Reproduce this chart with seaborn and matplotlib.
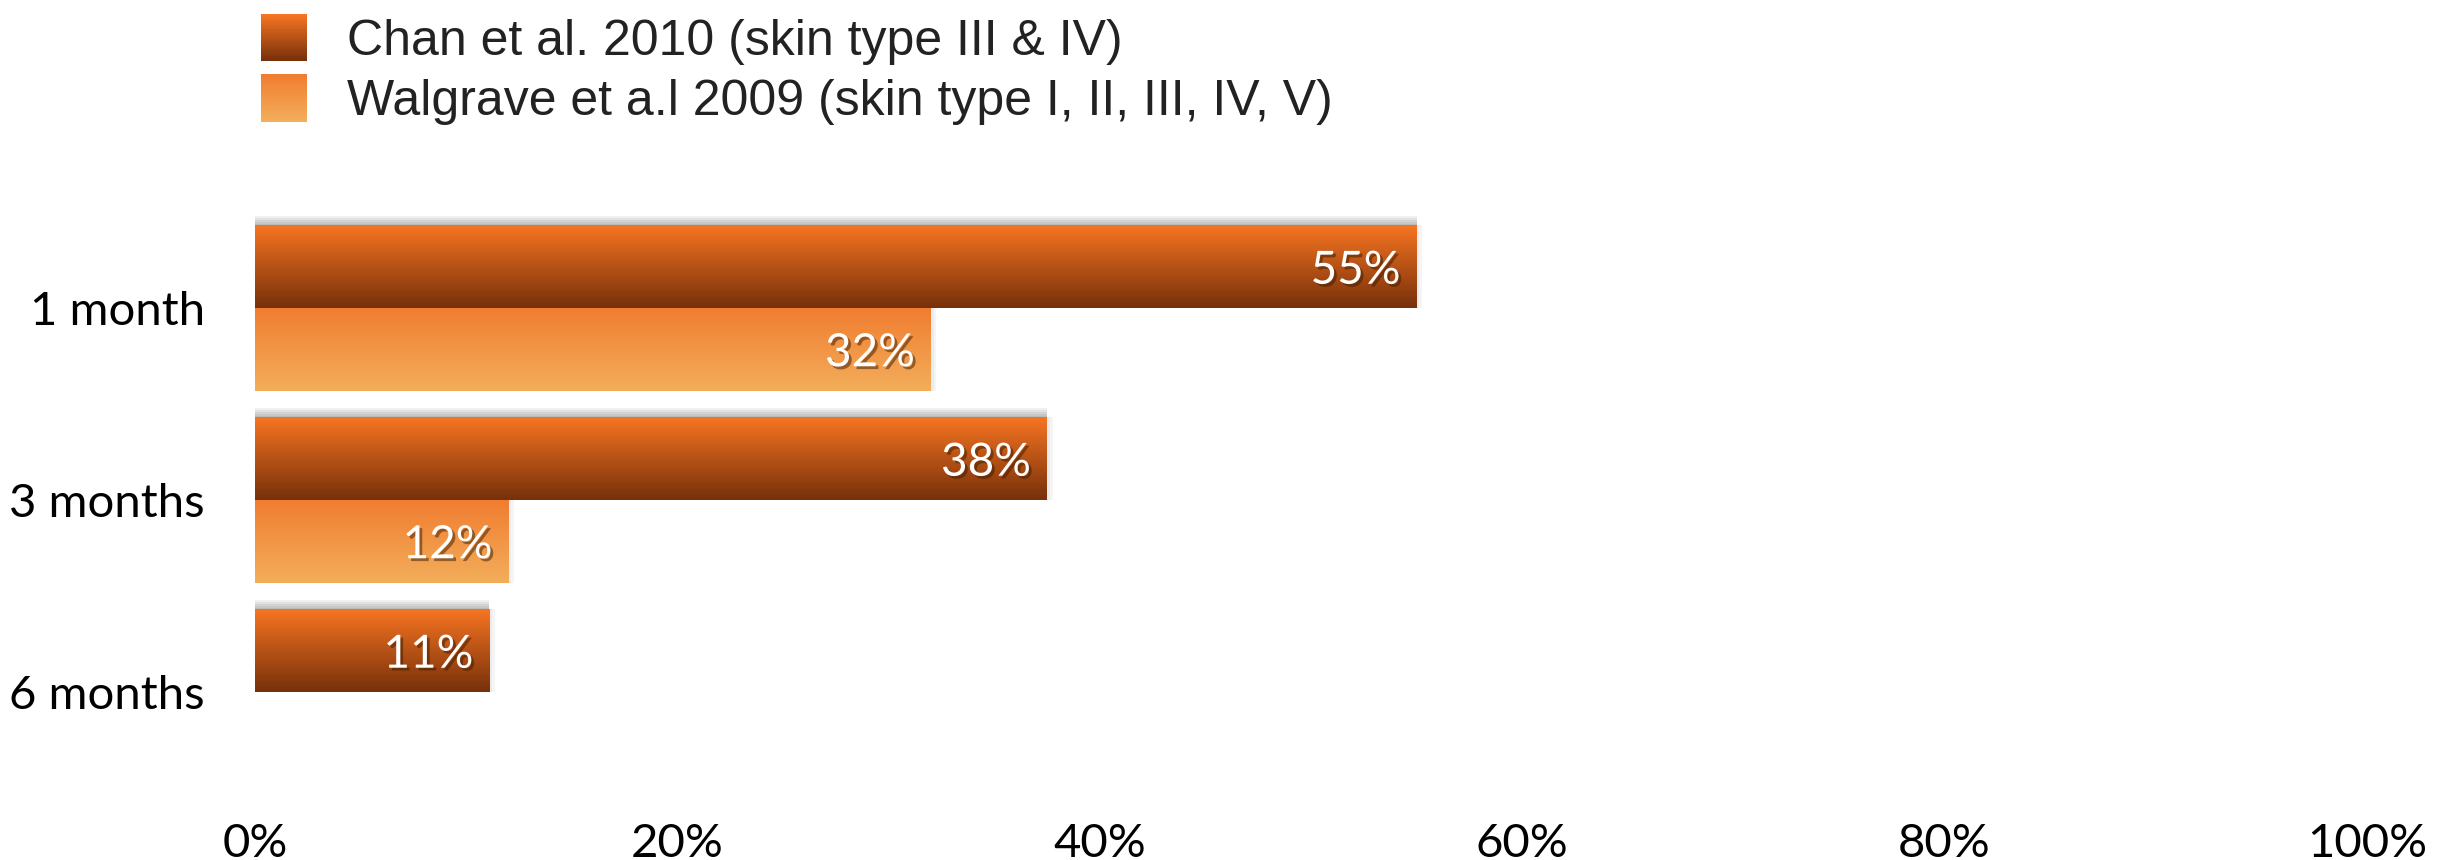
import numpy as np
import pandas as pd
import matplotlib
matplotlib.use("Agg")
import matplotlib.pyplot as plt
import matplotlib.patheffects as pe
from matplotlib.patches import Rectangle, Patch
from matplotlib.legend_handler import HandlerBase
from matplotlib import font_manager as fm
import matplotlib.colors as mcolors
import seaborn as sns

# ---------------- data ----------------
periods = ["1 month", "3 months", "6 months"]
series_names = ["Chan et al. 2010 (skin type III & IV)",
                "Walgrave et a.l 2009 (skin type I, II, III, IV, V)"]
chan_values = [55, 37.5, 11.1]
walgrave_values = [32, 12, np.nan]
chan_labels = ["55%", "38%", "11%"]
walgrave_labels = ["32%", "12%", ""]
x_ticks = [0, 20, 40, 60, 80, 100]
x_tick_labels = ["0%", "20%", "40%", "60%", "80%", "100%"]

# gradient colours (top, bottom) per series
grad_colors = {
    series_names[0]: ("#F77522", "#77300A"),
    series_names[1]: ("#F07D30", "#F3AE5B"),
}

# ---------------- fonts ----------------
avail = {f.name for f in fm.fontManager.ttflist}
def pick(*names):
    for n in names:
        if n in avail:
            return n
    return "DejaVu Sans"
label_font = pick("Lato", "Open Sans", "Noto Sans")
legend_font = pick("Liberation Sans", "DejaVu Sans")

sns.set_theme(style="white")
plt.rcParams["font.family"] = [label_font, "DejaVu Sans"]

df = pd.DataFrame({
    "period": periods * 2,
    "value": chan_values + walgrave_values,
    "series": [series_names[0]] * 3 + [series_names[1]] * 3,
}).dropna()

W, H, DPI = 2438, 860, 100
fig = plt.figure(figsize=(W / DPI, H / DPI), dpi=DPI)
fig.patch.set_facecolor("white")
ax = fig.add_axes([255 / W, 1 - 788 / H, 2112 / W, 576 / H])

palette = {k: v[0] for k, v in grad_colors.items()}
sns.barplot(data=df, y="period", x="value", hue="series", order=periods,
            hue_order=series_names, palette=palette, orient="h",
            width=0.86, dodge=True, ax=ax, legend=False,
            edgecolor="none", linewidth=0, saturation=1, errorbar=None)

ax.set_xlim(0, 100)
ax.set_ylim(2.5, -0.5)

def gradient(top, bottom, n=256):
    t = np.array(mcolors.to_rgb(top))
    b = np.array(mcolors.to_rgb(bottom))
    f = np.linspace(0, 1, n)[:, None]
    return (t * (1 - f) + b * f)[:, None, :]

shadow = [pe.SimplePatchShadow(offset=(0, k), shadow_rgbFace="#000000", alpha=0.06)
          for k in (1, 2.5, 4, 5.5, 7)] + \
         [pe.SimplePatchShadow(offset=(k, 0), shadow_rgbFace="#000000", alpha=0.04)
          for k in (2, 4)] + [pe.Normal()]

label_sets = {series_names[0]: chan_labels, series_names[1]: walgrave_labels}
for name, cont in zip(series_names, ax.containers):
    top, bottom = grad_colors[name]
    img = gradient(top, bottom)
    labs = [l for l in label_sets[name] if l]
    for bar, lab in zip(cont, labs):
        w = bar.get_width()
        if not np.isfinite(w) or w <= 0:
            continue
        bar.set_path_effects(shadow)
        y0 = bar.get_y()
        h = bar.get_height()
        im = ax.imshow(img, extent=(bar.get_x(), bar.get_x() + w, y0 + h, y0),
                       origin="upper", aspect="auto", zorder=5,
                       interpolation="bilinear")
        im.set_clip_path(bar)
        ax.annotate(lab, xy=(w, y0 + h / 2), xytext=(-11.5, 0),
                    textcoords="offset points", ha="right", va="center_baseline",
                    color="white", fontsize=33, zorder=6,
                    path_effects=[pe.SimplePatchShadow(offset=(2, -2),
                                                       shadow_rgbFace="#3a1a00",
                                                       alpha=0.5),
                                  pe.Normal()])

ax.set_xlim(0, 100)
ax.set_ylim(2.5, -0.5)
ax.set_xticks(x_ticks)
ax.set_xticklabels(x_tick_labels)
ax.set_xlabel("")
ax.set_ylabel("")
ax.tick_params(axis="x", length=0, pad=25, labelsize=34, labelcolor="black")
ax.tick_params(axis="y", length=0, pad=36, labelsize=34, labelcolor="black")
for s in ax.spines.values():
    s.set_visible(False)
ax.grid(False)
ax.set_facecolor("white")


class GradHandler(HandlerBase):
    def __init__(self, top, bottom):
        super().__init__()
        self.top, self.bottom = top, bottom

    def create_artists(self, legend, orig_handle, xdescent, ydescent,
                       width, height, fontsize, trans):
        n = 40
        t = np.array(mcolors.to_rgb(self.top))
        b = np.array(mcolors.to_rgb(self.bottom))
        arts = []
        for i in range(n):
            f = i / (n - 1)
            c = b * (1 - f) + t * f
            r = Rectangle((-xdescent, -ydescent + i * height / n), width,
                          height / n * 1.08, facecolor=c, edgecolor="none",
                          transform=trans)
            arts.append(r)
        return arts


handles = [Patch(label=n) for n in series_names]
hmap = {h: GradHandler(*grad_colors[n]) for h, n in zip(handles, series_names)}
leg = fig.legend(handles=handles, handler_map=hmap, loc="upper left",
                 bbox_to_anchor=(261 / W, 1 - 14 / H), frameon=False,
                 prop={"family": legend_font, "size": 36},
                 handlelength=0.92, handleheight=1.07, handletextpad=0.8,
                 labelspacing=0.2, borderpad=0, borderaxespad=0)
for t in leg.get_texts():
    t.set_color("#222222")

fig.savefig("out.png", dpi=DPI, facecolor="white")
